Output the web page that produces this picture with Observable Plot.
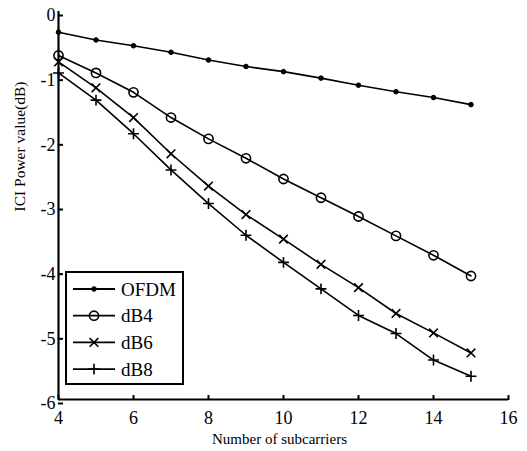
<!DOCTYPE html>
<html><head><meta charset="utf-8">
<script src="https://cdn.jsdelivr.net/npm/d3@7"></script>
<script src="https://cdn.jsdelivr.net/npm/@observablehq/plot@0.6"></script>
<style>body{margin:0;background:#fff}#chart{width:527px;height:451px}
#chart svg text{font-family:'Liberation Serif','Times New Roman',serif}</style>
</head><body><div id="chart"></div>
<script>
const subcarriers = [4, 5, 6, 7, 8, 9, 10, 11, 12, 13, 14, 15];
const ofdm = [-0.32, -0.44, -0.53, -0.63, -0.75, -0.85, -0.93, -1.03, -1.14, -1.24, -1.33, -1.44];
const db4  = [-0.68, -0.95, -1.25, -1.64, -1.97, -2.27, -2.59, -2.88, -3.17, -3.47, -3.77, -4.09];
const db6  = [-0.78, -1.18, -1.64, -2.20, -2.70, -3.14, -3.52, -3.91, -4.27, -4.67, -4.97, -5.28];
const db8  = [-0.95, -1.37, -1.89, -2.45, -2.97, -3.46, -3.88, -4.29, -4.70, -4.98, -5.39, -5.64];
const seriesNames = ["OFDM", "dB4", "dB6", "dB8"];
const xTicks = [4, 6, 8, 10, 12, 14, 16];
const yTicks = [0, -1, -2, -3, -4, -5, -6];
const xLabel = "Number of subcarriers";
const yLabel = "ICI Power value(dB)";

const values = [ofdm, db4, db6, db8];
const styles = {
  OFDM: {symbol: "circle", r: 2.3, fill: "black", stroke: "black", strokeWidth: 1},
  dB4: {symbol: "circle", r: 4.6, fill: "none", stroke: "black", strokeWidth: 1.6},
  dB6: {symbol: "times", r: 4, fill: "none", stroke: "black", strokeWidth: 1.6},
  dB8: {symbol: "plus", r: 3.6, fill: "none", stroke: "black", strokeWidth: 1.6}
};
const rows = [];
seriesNames.forEach((s, i) => subcarriers.forEach((x, j) => rows.push({series: s, x, y: values[i][j]})));

const marks = [
  Plot.ruleX([4], {stroke: "black", strokeWidth: 2.2}),
  Plot.ruleY([-6], {stroke: "black", strokeWidth: 2.2}),
  Plot.axisX({ticks: xTicks, tickSize: -5, tickPadding: 16, dy: 1, tickFormat: d => String(d), fontSize: 18, strokeWidth: 2, label: null}),
  Plot.axisY({ticks: yTicks, tickSize: -5, tickPadding: 8, tickFormat: d => String(d), fontSize: 18, strokeWidth: 2, dy: 4, label: null}),
  Plot.text([xLabel], {frameAnchor: "bottom", dy: 44, dx: -4, fontSize: 15}),
  Plot.text([yLabel], {frameAnchor: "left", dx: -38, dy: 6, rotate: -90, fontSize: 15.5})
];
for (const s of seriesNames) {
  const data = rows.filter(d => d.series === s);
  marks.push(Plot.line(data, {x: "x", y: "y", stroke: "black", strokeWidth: 1.6}));
  const st = styles[s];
  marks.push(Plot.dot(data, {x: "x", y: "y", symbol: st.symbol, r: st.r, fill: st.fill, stroke: st.stroke, strokeWidth: st.strokeWidth}));
}

const chart = Plot.plot({
  width: 527, height: 451,
  marginLeft: 58, marginRight: 19, marginTop: 11, marginBottom: 52,
  style: {fontFamily: "'Liberation Serif', 'Times New Roman', serif", color: "black", background: "white", overflow: "visible"},
  x: {domain: [4, 16]},
  y: {domain: [-6, 0]},
  marks
});
document.getElementById("chart").appendChild(chart);

const svg = d3.select(chart);
svg.selectAll('g[aria-label$="tick label"]').attr("font-size", 18);
svg.selectAll('g[aria-label$="tick label"] text').attr("font-size", 18);

// legend
const lg = svg.append("g").attr("text-anchor", "start");
lg.append("rect").attr("x", 66).attr("y", 272).attr("width", 117).attr("height", 112)
  .attr("fill", "white").attr("stroke", "black").attr("stroke-width", 2);
seriesNames.forEach((s, i) => {
  const y = 289 + i * 26.7;
  lg.append("line").attr("x1", 73).attr("x2", 115).attr("y1", y).attr("y2", y)
    .attr("stroke", "black").attr("stroke-width", 1.8);
  const st = styles[s];
  const sym = {circle: d3.symbolCircle, times: d3.symbolTimes, plus: d3.symbolPlus}[st.symbol];
  lg.append("path").attr("transform", `translate(94,${y})`)
    .attr("d", d3.symbol(sym, Math.PI * st.r * st.r)())
    .attr("fill", st.fill).attr("stroke", st.stroke).attr("stroke-width", st.strokeWidth);
  lg.append("text").attr("x", 121).attr("y", y).attr("dy", "0.35em")
    .attr("text-anchor", "start").attr("font-size", 19).text(s);
});
</script>
</body></html>
